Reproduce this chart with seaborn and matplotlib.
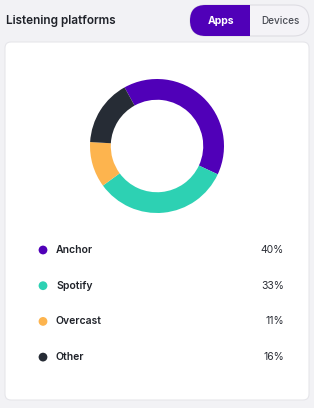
import matplotlib
matplotlib.use("Agg")
import matplotlib.pyplot as plt
import seaborn as sns
from matplotlib.patches import FancyBboxPatch, Rectangle

# Data
platforms = ["Anchor", "Spotify", "Overcast", "Other"]
shares = [40, 33, 11, 16]
colors = ["#5000b8", "#2dd1b3", "#fdb44e", "#262c35"]
pct_labels = ["40%", "33%", "11%", "16%"]

sns.set_theme(style="white")
plt.rcParams["font.family"] = ["Inter", "DejaVu Sans"]

W, H = 314, 408
fig = plt.figure(figsize=(W / 100, H / 100), dpi=100)
fig.patch.set_facecolor("#f2f2f5")

# background / layout axes in pixel coordinates
bg = fig.add_axes([0, 0, 1, 1])
bg.set_xlim(0, W)
bg.set_ylim(H, 0)
bg.axis("off")

# card
bg.add_patch(FancyBboxPatch((5, 42), 304, 358, boxstyle="round,pad=0,rounding_size=6",
                            facecolor="white", edgecolor="#e6e6ea", linewidth=0.8))

# title
bg.text(6, 21, "Listening platforms", fontsize=8.5, fontweight="semibold",
        color="#1f2229", va="center", ha="left")

# toggle
bg.add_patch(FancyBboxPatch((190, 5), 119, 31, boxstyle="round,pad=0,rounding_size=15.5",
                            facecolor="#f4f3f7", edgecolor="#dedde3", linewidth=0.8))
bg.add_patch(FancyBboxPatch((190, 5), 60, 31, boxstyle="round,pad=0,rounding_size=15.5",
                            facecolor="#5000b8", edgecolor="none"))
bg.add_patch(Rectangle((232, 5), 18, 31, facecolor="#5000b8", edgecolor="none"))
bg.text(221, 21, "Apps", fontsize=7.5, fontweight="bold", color="white", ha="center", va="center")
bg.text(280, 21, "Devices", fontsize=7.2, fontweight="medium", color="#4a4d55", ha="center", va="center")

# donut
cx, cy, r = 157, 146, 67
pie_ax = fig.add_axes([(cx - r) / W, (H - cy - r) / H, 2 * r / W, 2 * r / H])
pie_ax.pie(shares, colors=colors, startangle=119, counterclock=False,
           wedgeprops=dict(width=0.31, edgecolor="none"))
pie_ax.set_xlim(-1, 1)
pie_ax.set_ylim(-1, 1)
pie_ax.set_aspect("equal")
pie_ax.axis("off")

# legend rows
row_y = [250 + i * 35.7 for i in range(len(platforms))]
sns.scatterplot(x=[43] * len(platforms), y=row_y, hue=platforms, palette=colors,
                s=40, linewidth=0, legend=False, ax=bg)
bg.set_xlim(0, W)
bg.set_ylim(H, 0)
for name, pct, y in zip(platforms, pct_labels, row_y):
    bg.text(56, y, name, fontsize=7.5, fontweight="semibold", color="#1f2229", va="center", ha="left")
    bg.text(284, y, pct, fontsize=7.5, color="#2a2d35", va="center", ha="right")

fig.savefig("out.png", dpi=100, facecolor=fig.get_facecolor())
